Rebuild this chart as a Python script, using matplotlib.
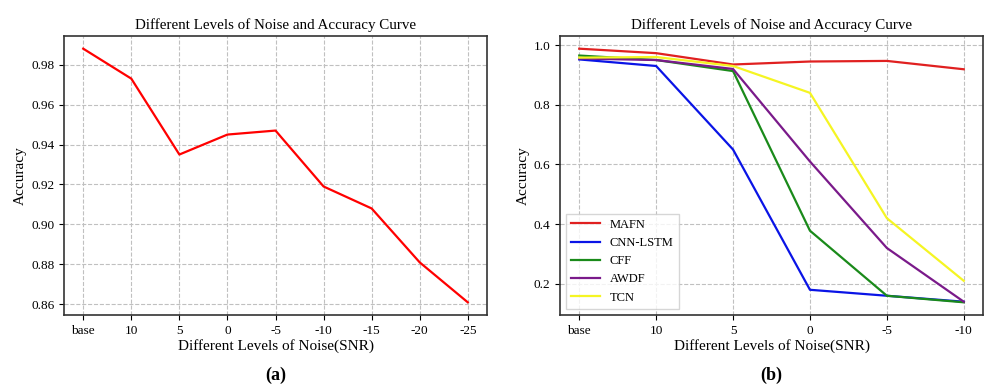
import matplotlib
matplotlib.use("Agg")
import matplotlib.pyplot as plt

plt.rcParams['font.family'] = ['Liberation Serif', 'DejaVu Serif']

levels_a = ['base', '10', '5', '0', '-5', '-10', '-15', '-20', '-25']
acc_a = [0.988, 0.973, 0.935, 0.945, 0.947, 0.919, 0.908, 0.881, 0.861]

levels_b = ['base', '10', '5', '0', '-5', '-10']
mafn = [0.988, 0.973, 0.935, 0.945, 0.947, 0.919]
cnn_lstm = [0.952, 0.930, 0.650, 0.180, 0.160, 0.140]
cff = [0.965, 0.950, 0.913, 0.378, 0.160, 0.138]
awdf = [0.955, 0.950, 0.920, 0.610, 0.320, 0.140]
tcn = [0.958, 0.960, 0.930, 0.840, 0.420, 0.210]

fig = plt.figure(figsize=(9.85, 3.85), dpi=100)
W, H = 985, 385
ax1 = fig.add_axes([64 / W, 1 - 315 / H, (487 - 64) / W, (315 - 36) / H])
ax2 = fig.add_axes([560 / W, 1 - 315 / H, (983 - 560) / W, (315 - 36) / H])

title = 'Different Levels of Noise and Accuracy Curve'
for ax in (ax1, ax2):
    ax.grid(True, linestyle='--', color='#c0c0c0', linewidth=0.8)
    ax.set_axisbelow(True)
    ax.set_title(title, fontsize=10.8, pad=5)
    ax.set_xlabel('Different Levels of Noise(SNR)', fontsize=11, labelpad=2)
    ax.set_ylabel('Accuracy', fontsize=11, labelpad=3)
    ax.tick_params(labelsize=9.5)
    for s in ax.spines.values():
        s.set_color('#333333')
        s.set_linewidth(1.2)

xa = range(len(levels_a))
ax1.plot(xa, acc_a, color='#ff0000', linewidth=1.6)
ax1.set_xticks(list(xa))
ax1.set_xticklabels(levels_a)

xb = range(len(levels_b))
ax2.plot(xb, mafn, color='#e02020', linewidth=1.6, label='MAFN')
ax2.plot(xb, cnn_lstm, color='#0a14e6', linewidth=1.6, label='CNN-LSTM')
ax2.plot(xb, cff, color='#1a8a1a', linewidth=1.6, label='CFF')
ax2.plot(xb, awdf, color='#7a1a8a', linewidth=1.6, label='AWDF')
ax2.plot(xb, tcn, color='#f5f523', linewidth=1.6, label='TCN')
ax2.set_xticks(list(xb))
ax2.set_xticklabels(levels_b)
ax2.set_yticks([0.2, 0.4, 0.6, 0.8, 1.0])
ax2.legend(loc='lower left', fontsize=9.0, frameon=True, fancybox=False,
           edgecolor='#cccccc', handlelength=2.3)

fig.text((64 + 487) / 2 / W, 1 - 375 / H, '(a)', ha='center', va='center',
         fontsize=13, fontweight='bold')
fig.text((560 + 983) / 2 / W, 1 - 375 / H, '(b)', ha='center', va='center',
         fontsize=13, fontweight='bold')

fig.savefig('out.png', dpi=100)
